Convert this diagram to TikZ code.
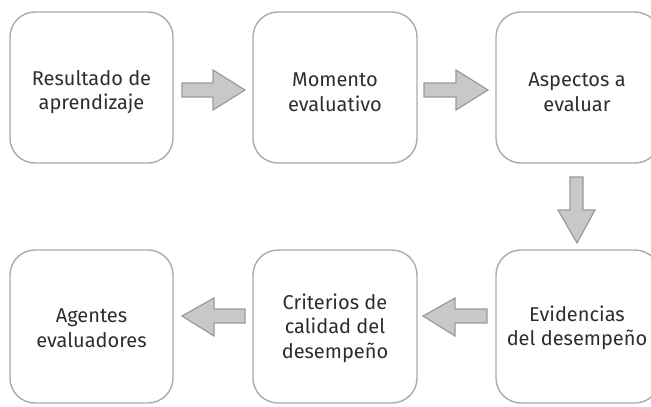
\documentclass[tikz,border=0pt]{standalone}
\usepackage{fontspec}
\setmainfont{Fira Sans}
\begin{document}
\begin{tikzpicture}[x=1pt,y=-1pt,
  stepbox/.style={draw=boxgray, line width=1.4pt, rounded corners=25pt, fill=white},
  lbl/.style={align=center, text=txtgray, font=\fontsize{20}{24.5}\selectfont},
  blockarrow/.style={draw=arrowline, fill=arrowfill, line width=1.2pt, line join=miter}]
\definecolor{boxgray}{HTML}{ABABAB}
\definecolor{txtgray}{HTML}{2E2E2E}
\definecolor{arrowfill}{HTML}{C8C8C8}
\definecolor{arrowline}{HTML}{9A9A9A}
\useasboundingbox (0,0) rectangle (651,407);
\clip (0,0) rectangle (651,407);
% boxes
\draw[stepbox] (10,12) rectangle (173,163);
\draw[stepbox] (253,12) rectangle (417,163);
\draw[stepbox] (496,12) rectangle (660,163);
\draw[stepbox] (10,250) rectangle (173,403);
\draw[stepbox] (253,250) rectangle (417,403);
\draw[stepbox] (496,250) rectangle (660,403);
% labels
\node[lbl] (b1) at (91.5,92) {Resultado de\\aprendizaje};
\node[lbl] (b2) at (335,92) {Momento\\evaluativo};
\node[lbl] (b3) at (577,92) {Aspectos a\\evaluar};
\node[lbl] (b4) at (577,328) {Evidencias\\del desempeño};
\node[lbl] (b5) at (335,328) {Criterios de\\calidad del\\desempeño};
\node[lbl] (b6) at (91.5,328) {Agentes\\evaluadores};
% arrows right
\draw[blockarrow] (182,83) -- (213,83) -- (213,70) -- (245,90) -- (213,110) -- (213,97) -- (182,97) -- cycle;
\draw[blockarrow] (424,83) -- (456,83) -- (456,70) -- (488,90) -- (456,110) -- (456,97) -- (424,97) -- cycle;
% arrow down
\draw[blockarrow] (570,177) -- (583,177) -- (583,210) -- (595,210) -- (577,243) -- (558,210) -- (570,210) -- cycle;
% arrows left
\draw[blockarrow] (487,309) -- (455,309) -- (455,298) -- (423,316) -- (455,336) -- (455,323) -- (487,323) -- cycle;
\draw[blockarrow] (245,309) -- (214,309) -- (214,298) -- (182,316) -- (214,336) -- (214,323) -- (245,323) -- cycle;
\end{tikzpicture}
\end{document}
